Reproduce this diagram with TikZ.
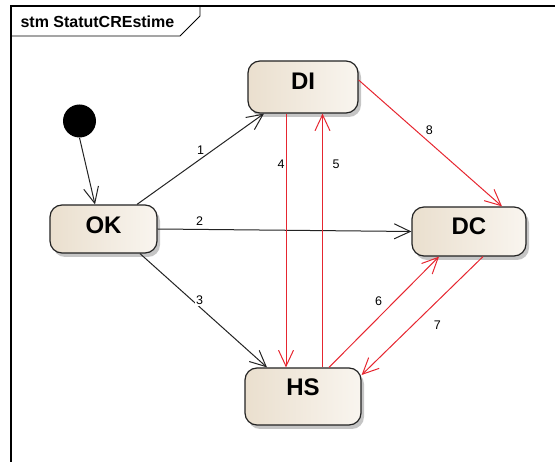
\documentclass[tikz,border=0pt]{standalone}
\usepackage{fontspec}
\setmainfont{Liberation Sans}
\usepackage{tikz}
\usetikzlibrary{arrows.meta, shadows}
\definecolor{etatfond}{RGB}{234,223,206}
\definecolor{etatclair}{RGB}{249,245,239}
\definecolor{rouge}{RGB}{230,38,48}
\definecolor{trait}{RGB}{35,35,35}

\begin{document}
\begin{tikzpicture}[x=1pt,y=-1pt,
    etat/.style={draw=trait, line width=1.2pt, rounded corners=12pt, inner sep=0pt,
      left color=etatfond, right color=etatclair, text height=17pt, text depth=10pt,
      font=\fontsize{24}{24}\selectfont\bfseries,
      drop shadow={shadow xshift=3pt, shadow yshift=-4pt, fill=black!45, opacity=0.5}},
    trans/.style={draw=trait, line width=1pt, -{Straight Barb[length=16pt,width=15pt,line width=1pt]}},
    transr/.style={trans, draw=rouge},
    lbl/.style={fill=white, inner sep=1pt, font=\fontsize{12.5}{12.5}\selectfont}]
      \useasboundingbox (0,0) rectangle (555,462);
      % cadre
      \draw[line width=2pt] (11,462) -- (11,6) -- (555,6);
      \draw[line width=0.8pt] (11,36) -- (180,36) -- (200,16) -- (200,6);
      \node[anchor=west, font=\fontsize{16}{16}\selectfont\bfseries] (titre) at (17,22) {stm StatutCREstime};
      % etats
      \node[circle, fill=black, minimum size=33pt, inner sep=0pt] (init) at (79.5,121) {};
      \node[etat, minimum width=107pt, minimum height=48pt, text depth=8pt] (OK) at (103.5,229) {OK};
      \node[etat, minimum width=110pt, minimum height=52pt, text depth=12pt] (DI) at (303,87) {DI};
      \node[etat, minimum width=114pt, minimum height=49pt, text depth=11pt] (DC) at (469,231.5) {DC};
      \node[etat, minimum width=116pt, minimum height=57pt, text depth=19pt] (HS) at (303,396.5) {HS};
      % transitions
      \draw[trans] (init.south) -- ([xshift=-8.5pt]OK.north);
      \draw[trans] ([xshift=33.5pt]OK.north) -- node[lbl, shift={(0,-9)}] {1} ([xshift=-39pt]DI.south);
      \draw[trans] (OK.east) -- node[lbl, pos=0.165, shift={(0,-8)}] {2} (DC.west);
      \draw[trans] ([xshift=36.5pt]OK.south) -- node[lbl, pos=0.47, shift={(0,-7)}] {3} ([xshift=-36pt]HS.north);
      \draw[transr] ([xshift=-17pt]DI.south) -- node[lbl, pos=0.2, shift={(-5,0)}] {4} ([xshift=-17pt]HS.north);
      \draw[transr] ([xshift=19.5pt]HS.north) -- node[lbl, pos=0.8, shift={(13.5,0)}] {5} ([xshift=19.5pt]DI.south);
      \draw[transr] ([xshift=26pt]HS.north) -- node[lbl, pos=0.55, shift={(-11,-5)}] {6} ([xshift=-30pt]DC.south);
      \draw[transr] ([xshift=14pt]DC.south) -- node[lbl, shift={(15,9.5)}] {7} ([yshift=21.5pt]HS.east);
      \draw[transr] ([yshift=7pt]DI.east) -- node[lbl, shift={(-1,-13)}] {8} ([xshift=33pt]DC.north);
\end{tikzpicture}
\end{document}
